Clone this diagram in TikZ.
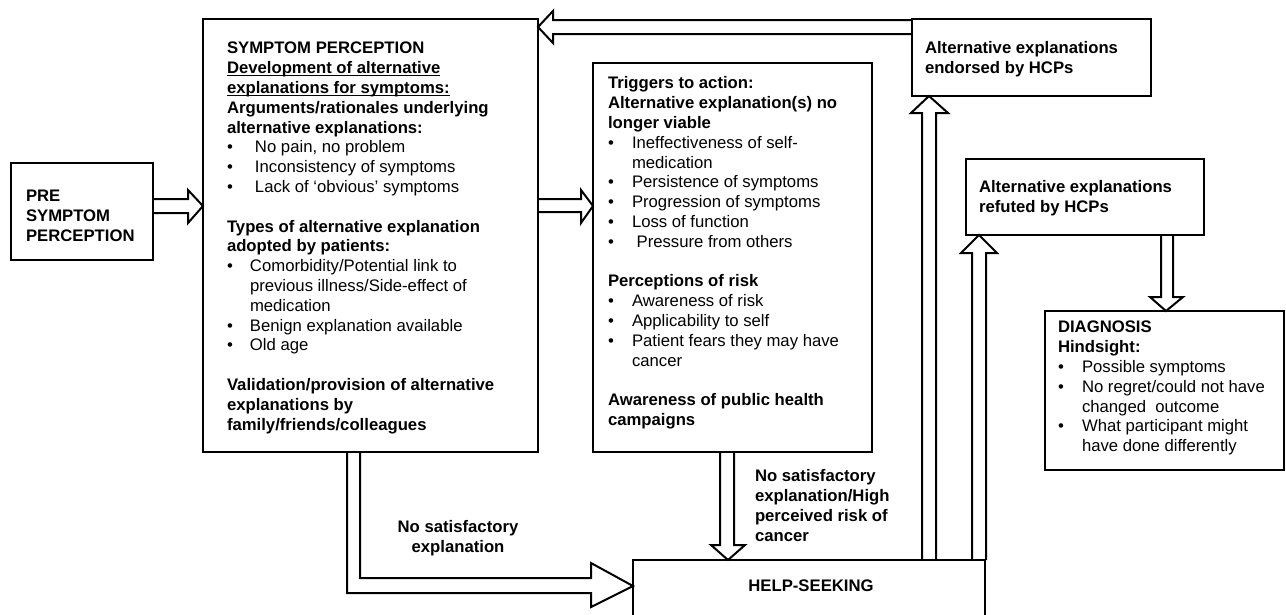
\documentclass[tikz,border=0pt]{standalone}
\usepackage{fontspec}
\setmainfont{Liberation Sans}
\usetikzlibrary{calc}
\newcommand\bl[1]{\makebox[#1pt][l]{•}}
\newcommand\ulin[1]{\setbox0\hbox{#1}\rlap{\rule[-2.6pt]{\wd0}{1.2pt}}\box0}
\begin{document}
\begin{tikzpicture}[x=1pt,y=-1pt,
  box/.style={draw, line width=2.5pt, rectangle, inner sep=0pt, outer sep=0pt, anchor=north west},
  blk/.style={draw, line width=2pt, line join=miter},
  txt/.style={inner sep=0pt, outer sep=0pt, anchor=north west, align=left, font=\fontsize{16.7}{19.8}\selectfont}]
\useasboundingbox (0,0) rectangle (1286,614);
\clip (0,0) rectangle (1286,614);
% boxes
\node[box, minimum width=142pt, minimum height=97pt] (pre) at (11,163) {};
\node[box, minimum width=335pt, minimum height=433pt] (sp) at (203,19) {};
\node[box, minimum width=279pt, minimum height=389pt] (trig) at (593,63) {};
\node[box, minimum width=239pt, minimum height=77pt] (endo) at (912,19) {};
\node[box, minimum width=238pt, minimum height=76pt] (refu) at (966,159) {};
\node[box, minimum width=239pt, minimum height=159pt] (diag) at (1045,311) {};
\node[box, minimum width=352pt, minimum height=80pt] (help) at (633,560) {};
% texts
\node[txt] (preT) at (26,188.1) {\strut\textbf{PRE}\\\textbf{SYMPTOM}\\\textbf{PERCEPTION}};
\node[txt] (spT) at (227,40.1) {\strut\textbf{SYMPTOM PERCEPTION}\\
\textbf{\ulin{Development of alternative}}\\
\textbf{\ulin{explanations for symptoms:}}\\
\textbf{Arguments/rationales underlying}\\
\textbf{alternative explanations:}\\
\bl{28}No pain, no problem\\
\bl{28}Inconsistency of symptoms\\
\bl{28}Lack of ‘obvious’ symptoms\\
\mbox{}\\
\textbf{Types of alternative explanation}\\
\textbf{adopted by patients:}\\
\bl{23}Comorbidity/Potential link to\\
\hspace*{23pt}previous illness/Side-effect of\\
\hspace*{23pt}medication\\
\bl{23}Benign explanation available\\
\bl{23}Old age\\
\mbox{}\\
\textbf{Validation/provision of alternative}\\
\textbf{explanations by}\\
\textbf{family/friends/colleagues}};
\node[txt] (trigT) at (608,75.1) {\strut\textbf{Triggers to action:}\\
\textbf{Alternative explanation(s) no}\\
\textbf{longer viable}\\
\bl{24}Ineffectiveness of self-\\
\hspace*{24pt}medication\\
\bl{24}Persistence of symptoms\\
\bl{24}Progression of symptoms\\
\bl{24}Loss of function\\
\bl{24}\ Pressure from others\\
\mbox{}\\
\textbf{Perceptions of risk}\\
\bl{24}Awareness of risk\\
\bl{24}Applicability to self\\
\bl{24}Patient fears they may have\\
\hspace*{24pt}cancer\\
\mbox{}\\
\textbf{Awareness of public health}\\
\textbf{campaigns}};
\node[txt] (endoT) at (925,40.1) {\strut\textbf{Alternative explanations}\\\textbf{endorsed by HCPs}};
\node[txt] (refuT) at (979,179.1) {\strut\textbf{Alternative explanations}\\\textbf{refuted by HCPs}};
\node[txt] (diagT) at (1058,319.1) {\strut\textbf{DIAGNOSIS}\\
\textbf{Hindsight:}\\
\bl{24}Possible symptoms\\
\bl{24}No regret/could not have\\
\hspace*{24pt}changed\ \ outcome\\
\bl{24}What participant might\\
\hspace*{24pt}have done differently};
\node[txt, anchor=north, align=center] (lab1) at (458,519.1) {\strut\textbf{No satisfactory}\\\textbf{explanation}};
\node[txt] (lab2) at (755,468.1) {\strut\textbf{No satisfactory}\\\textbf{explanation/High}\\\textbf{perceived risk of}\\\textbf{cancer}};
\node[txt, anchor=base] (helpT) at (811,591) {\textbf{HELP-SEEKING}};
% block arrows
\draw[blk] (pre.east |- 0,199) -- (188,199) -- (188,190) -- (sp.west |- 0,206) -- (188,223) -- (188,213) -- (pre.east |- 0,213);
\draw[blk] (sp.east |- 0,199) -- (581,199) -- (581,190) -- (trig.west |- 0,206) -- (581,223) -- (581,212) -- (sp.east |- 0,212);
\draw[blk] (sp.south -| 347,0) -- (347,593) -- (591,593) -- (591,607) -- (help.west |- 0,586) -- (591,563) -- (591,578) -- (360,578) -- (sp.south -| 360,0);
\draw[blk] (trig.south -| 720,0) -- (720,545) -- (711,545) -- (help.north -| 728,0) -- (745,545) -- (734,545) -- (trig.south -| 734,0);
\draw[blk] (help.north -| 922,0) -- (922,113) -- (911,113) -- (endo.south -| 929,0) -- (948,113) -- (936,113) -- (help.north -| 936,0);
\draw[blk] (help.north -| 972,0) -- (972,253) -- (961,253) -- (refu.south -| 979,0) -- (997,253) -- (986,253) -- (help.north -| 986,0);
\draw[blk] (refu.south -| 1161,0) -- (1161,297) -- (1150,297) -- (diag.north -| 1166,0) -- (1183,297) -- (1173,297) -- (refu.south -| 1173,0);
\draw[blk] (endo.west |- 0,20) -- (553,20) -- (553,11) -- (sp.east |- 0,27) -- (553,43) -- (553,34) -- (endo.west |- 0,34);
\end{tikzpicture}
\end{document}
